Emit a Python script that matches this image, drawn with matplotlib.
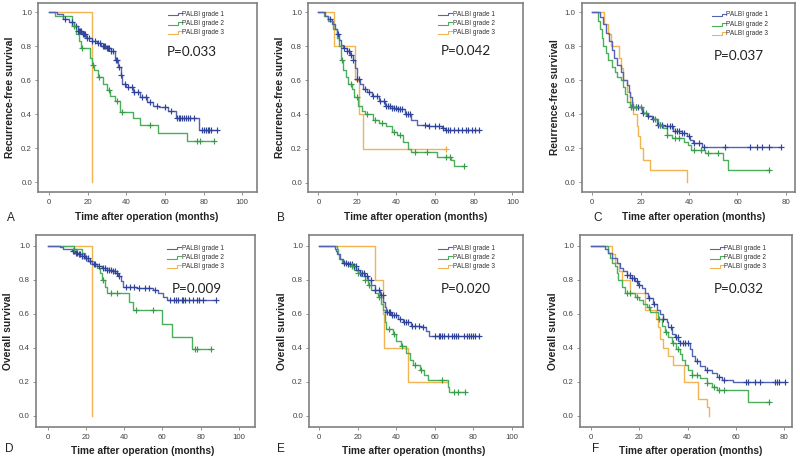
import numpy as np
import matplotlib
matplotlib.use("Agg")
import matplotlib.pyplot as plt
from matplotlib.lines import Line2D

# ---------------- text / labels ----------------
series_names = ["PALBI grade 1", "PALBI grade 2", "PALBI grade 3"]
panel_letters = ["A", "B", "C", "D", "E", "F"]
panel_ylabels = ["Recurrence-free survival", "Recurrence-free survival",
                 "Reurrence-free survival", "Overall survival",
                 "Overall survival", "Overall survival"]
xlabel_text = "Time after operation (months)"
p_values = ["P=0.033", "P=0.042", "P=0.037", "P=0.009", "P=0.020", "P=0.032"]
y_ticks = [0.0, 0.2, 0.4, 0.6, 0.8, 1.0]
x_ticks_100 = [0, 20, 40, 60, 80, 100]
x_ticks_80 = [0, 20, 40, 60, 80]

# ---------------- data: step times, survival after step, end time, censor times ----------------
# Panel A (RFS)
A1_t = [0, 4, 7, 10, 13, 15, 17, 19, 22, 24.5, 27, 29.5, 32, 34, 35.5, 37, 37.8, 40, 43.5, 47, 50.5, 54, 57, 61.5, 65.5, 77.5]
A1_s = [1.0, 0.99, 0.96, 0.94, 0.92, 0.89, 0.87, 0.85, 0.83, 0.82, 0.80, 0.79, 0.77, 0.72, 0.68, 0.63, 0.58, 0.56, 0.53, 0.50, 0.47, 0.45, 0.44, 0.42, 0.38, 0.31]
A1_end = 87
A1_c = [8, 12, 14, 15, 15.5, 16, 16.5, 17.5, 18, 18.5, 19.5, 20.5, 22, 23.5, 25, 26.5, 28, 28.5, 29, 30, 30.5, 31, 32, 33, 34.5, 35, 36, 37, 39, 41, 43, 44, 46, 48, 50, 52, 56, 60, 63, 66, 67, 68, 69, 70, 71, 72, 73, 75, 79, 80, 81, 82, 83, 84, 87]
A2_t = [0, 3, 12, 14, 15.5, 16.5, 21, 22, 23, 25, 28, 30, 31.5, 34, 36.5, 43.5, 47, 56.5, 71.3]
A2_s = [1.0, 0.98, 0.92, 0.87, 0.83, 0.79, 0.73, 0.69, 0.66, 0.62, 0.58, 0.54, 0.51, 0.48, 0.415, 0.38, 0.337, 0.29, 0.243]
A2_end = 85.5
A2_c = [13, 17, 22.5, 26, 31, 35, 37.5, 52, 76.5, 78, 85.5]
A3_t = [0, 22]
A3_s = [1.0, 0.0]
A3_end = 22
A3_c = []

# Panel B (RFS)
B1_t = [0, 3.5, 5, 7, 8.6, 9.5, 10.7, 11.7, 12.9, 14.6, 16.3, 17.7, 19, 19.8, 21.5, 23.2, 25, 27.5, 31, 34.4, 37.8, 41, 44.7, 48, 50.7, 56.7, 63.6, 65.3]
B1_s = [1.0, 0.98, 0.96, 0.93, 0.90, 0.87, 0.84, 0.81, 0.79, 0.77, 0.75, 0.72, 0.67, 0.61, 0.58, 0.55, 0.53, 0.51, 0.48, 0.45, 0.44, 0.43, 0.40, 0.37, 0.34, 0.33, 0.32, 0.31]
B1_end = 83
B1_c = [6, 10, 13, 15, 16, 17, 18, 20, 21, 24, 26, 28, 30, 32, 34, 35, 36, 37, 38, 39, 40, 41, 42, 43, 45, 46, 47, 55, 57, 60, 62, 64, 66, 67, 68, 70, 72, 74, 76, 77, 79, 81, 83]
B2_t = [0, 3, 5, 7.7, 9.5, 10.5, 11.7, 12.9, 14.3, 15.5, 17.2, 18.6, 20.6, 22.3, 24, 28.4, 31, 35, 38, 40.5, 43.5, 46, 47.5, 61, 68.5, 70]
B2_s = [1.0, 0.98, 0.95, 0.90, 0.85, 0.80, 0.72, 0.66, 0.62, 0.58, 0.55, 0.50, 0.45, 0.42, 0.40, 0.37, 0.35, 0.33, 0.30, 0.28, 0.24, 0.20, 0.18, 0.15, 0.13, 0.10]
B2_end = 75
B2_c = [12, 17, 20, 25, 29, 33, 39, 42, 50, 56, 66, 68, 75]
B3_t = [0, 8, 19, 21, 23]
B3_s = [1.0, 0.8, 0.6, 0.4, 0.2]
B3_end = 66
B3_c = [66]

# Panel C (RFS)
C1_t = [0, 3, 4.6, 5.7, 6.9, 8, 9.1, 10.3, 11.7, 12.8, 14.2, 15, 15.6, 16.3, 20.4, 22.5, 24.6, 26.6, 30, 33.5, 37, 39, 40.4, 41.8, 45.2]
C1_s = [1.0, 0.97, 0.93, 0.88, 0.83, 0.78, 0.73, 0.69, 0.65, 0.60, 0.57, 0.53, 0.50, 0.44, 0.41, 0.39, 0.37, 0.34, 0.33, 0.30, 0.29, 0.27, 0.25, 0.23, 0.21]
C1_end = 78
C1_c = [17, 18, 19, 21, 23, 25, 27, 28, 29, 31, 32, 33, 34, 35, 36, 37, 38, 40, 42, 44, 46, 55, 65, 68, 70, 73, 78]
C2_t = [0, 2.5, 3.2, 4, 4.6, 5.7, 6.6, 8, 9.4, 10.3, 11.7, 12.8, 13.5, 14.2, 15.6, 21, 23, 25, 27.3, 29.4, 30.8, 32.8, 38, 39.7, 41, 46.6, 54.2, 56]
C2_s = [1.0, 0.95, 0.90, 0.85, 0.80, 0.76, 0.72, 0.68, 0.65, 0.62, 0.60, 0.56, 0.52, 0.47, 0.44, 0.41, 0.39, 0.37, 0.34, 0.32, 0.28, 0.26, 0.24, 0.22, 0.19, 0.17, 0.13, 0.07]
C2_end = 73
C2_c = [16, 17, 18, 20, 22, 26, 28, 31, 34, 36, 42, 45, 48, 52, 73]
C3_t = [0, 4.8, 6.5, 7.6, 11.2, 12, 12.6, 14.2, 15.6, 17, 18.3, 19, 19.7, 21.1, 23.9, 39]
C3_s = [1.0, 0.93, 0.87, 0.80, 0.73, 0.67, 0.60, 0.53, 0.47, 0.40, 0.33, 0.27, 0.20, 0.13, 0.07, 0.0]
C3_end = 39
C3_c = []

# Panel D (OS)
D1_t = [0, 6.4, 8.2, 12.5, 14.3, 16, 17.8, 19.5, 21.3, 23, 25.6, 28.2, 30.8, 33.4, 35.2, 37, 38.2, 39.5, 46.5, 55, 57.8, 60.5, 62.2]
D1_s = [1.0, 0.99, 0.98, 0.97, 0.96, 0.95, 0.94, 0.93, 0.91, 0.89, 0.88, 0.87, 0.86, 0.85, 0.84, 0.82, 0.79, 0.76, 0.75, 0.74, 0.72, 0.70, 0.68]
D1_end = 88
D1_c = [13, 14, 15, 15.5, 16.5, 17, 18, 19, 20, 21, 22, 24, 25, 27, 29, 30, 31, 32, 33, 34, 35, 36, 37.5, 41, 43, 45, 48, 51, 53, 56, 64, 66, 67, 68, 70, 71, 72, 74, 76, 78, 79, 81, 88]
D2_t = [0, 14, 18, 19.5, 21, 23, 25.6, 27.3, 28.2, 30, 30.8, 42.7, 44.8, 59.6, 64.8, 75.3]
D2_s = [1.0, 0.98, 0.96, 0.93, 0.91, 0.89, 0.87, 0.84, 0.80, 0.76, 0.72, 0.67, 0.62, 0.54, 0.46, 0.39]
D2_end = 85.5
D2_c = [14, 29, 33, 36, 46, 55, 77, 78, 85.5]
D3_t = [0, 23]
D3_s = [1.0, 0.0]
D3_end = 23
D3_c = []

# Panel E (OS)
E1_t = [0, 8, 8.5, 9, 10.7, 12.4, 15, 17.6, 19.3, 21, 23.7, 25.4, 27.1, 28.8, 31.4, 33.2, 34, 34.9, 37.5, 41, 43.5, 47.8, 53, 55.6, 57.3]
E1_s = [1.0, 0.98, 0.97, 0.95, 0.92, 0.90, 0.89, 0.88, 0.86, 0.84, 0.82, 0.80, 0.77, 0.74, 0.71, 0.67, 0.64, 0.61, 0.59, 0.57, 0.55, 0.53, 0.52, 0.50, 0.47]
E1_end = 83
E1_c = [13, 14, 15, 16, 17, 18, 19, 20, 21, 22, 23, 25, 27, 29, 31, 32, 33, 35, 36, 37, 38, 39, 40, 42, 44, 45, 46, 48, 50, 52, 54, 60, 62, 63, 64, 65, 67, 69, 70, 71, 72, 75, 77, 78, 79, 80, 81, 83]
E2_t = [0, 9, 9.7, 10.5, 12, 15.9, 18.1, 19.9, 21.9, 23.7, 25.4, 27.1, 29, 30.6, 32.3, 33.2, 34, 34.9, 38.3, 40.1, 42.7, 45, 47, 48.7, 52.2, 54.7, 56.5, 66.8, 67.5]
E2_s = [1.0, 0.98, 0.95, 0.92, 0.90, 0.88, 0.86, 0.84, 0.82, 0.80, 0.77, 0.74, 0.72, 0.70, 0.66, 0.62, 0.55, 0.51, 0.48, 0.44, 0.41, 0.37, 0.33, 0.30, 0.27, 0.24, 0.21, 0.17, 0.14]
E2_end = 76
E2_c = [17, 20, 24, 26, 31, 36, 39, 43, 50, 53, 64, 70, 72, 76]
E3_t = [0, 29, 33, 33.7, 46]
E3_s = [1.0, 0.8, 0.6, 0.4, 0.2]
E3_end = 67
E3_c = []

# Panel F (OS)
F1_t = [0, 6, 7.2, 8.6, 10.6, 12, 13.4, 14.8, 16.1, 18.2, 19.6, 21, 22.3, 23.7, 25.8, 27.2, 28.6, 29.9, 31.3, 32, 33.4, 34.8, 36.1, 37, 41, 41.7, 43, 45.1, 47.2, 49.9, 52, 54.1, 58.9]
F1_s = [1.0, 0.98, 0.96, 0.93, 0.90, 0.87, 0.85, 0.83, 0.81, 0.79, 0.77, 0.75, 0.72, 0.69, 0.66, 0.62, 0.60, 0.57, 0.55, 0.52, 0.48, 0.46, 0.44, 0.43, 0.39, 0.35, 0.32, 0.29, 0.27, 0.25, 0.23, 0.21, 0.20]
F1_end = 80.5
F1_c = [15, 16, 17, 18, 19, 20, 24, 26, 30, 33, 35, 36, 37, 38, 39, 40, 44, 48, 53, 55, 64, 65, 68, 70, 76, 77, 78, 80.5]
F2_t = [0, 7, 7.8, 8.6, 9.9, 10.6, 11.3, 12.7, 14.1, 18.2, 20, 21.7, 23, 24.4, 27.9, 29.2, 30.6, 32, 33.4, 35.4, 36.8, 37.5, 38.9, 40.3, 41.7, 45.1, 47.9, 49.9, 52, 65.1]
F2_s = [1.0, 0.96, 0.93, 0.90, 0.88, 0.84, 0.80, 0.76, 0.72, 0.70, 0.68, 0.66, 0.64, 0.61, 0.57, 0.53, 0.49, 0.46, 0.43, 0.39, 0.36, 0.33, 0.30, 0.27, 0.24, 0.22, 0.19, 0.17, 0.15, 0.08]
F2_end = 73.8
F2_c = [15, 16, 19, 24, 28, 31, 34, 36, 42, 44, 48, 51, 53, 55, 73.8]
F3_t = [0, 8.5, 10, 11.5, 13, 16, 22.3, 27, 27.8, 28.6, 30, 32, 34, 38.6, 44.4, 48.2, 49]
F3_s = [1.0, 0.95, 0.90, 0.85, 0.80, 0.72, 0.62, 0.57, 0.52, 0.45, 0.40, 0.35, 0.30, 0.20, 0.10, 0.05, 0.0]
F3_end = 49
F3_c = []

panel_series = [
    [(A1_t, A1_s, A1_end, A1_c), (A2_t, A2_s, A2_end, A2_c), (A3_t, A3_s, A3_end, A3_c)],
    [(B1_t, B1_s, B1_end, B1_c), (B2_t, B2_s, B2_end, B2_c), (B3_t, B3_s, B3_end, B3_c)],
    [(C1_t, C1_s, C1_end, C1_c), (C2_t, C2_s, C2_end, C2_c), (C3_t, C3_s, C3_end, C3_c)],
    [(D1_t, D1_s, D1_end, D1_c), (D2_t, D2_s, D2_end, D2_c), (D3_t, D3_s, D3_end, D3_c)],
    [(E1_t, E1_s, E1_end, E1_c), (E2_t, E2_s, E2_end, E2_c), (E3_t, E3_s, E3_end, E3_c)],
    [(F1_t, F1_s, F1_end, F1_c), (F2_t, F2_s, F2_end, F2_c), (F3_t, F3_s, F3_end, F3_c)],
]

# ---------------- layout (pixels) ----------------
W, H = 800, 463
line_colors = ["#5463b3", "#4aae5a", "#f2b450"]
cens_colors = ["#31449c", "#3a9c4b", "#eeaa40"]
frame_col = "#808080"
text_col = "#333333"

# axes rects: left, top, right, bottom (px); xlim; ylim
rects = [(38.3, 2.7, 256.7, 191.7), (308.3, 2.7, 523.0, 192.0), (581.7, 2.7, 795.0, 191.7),
         (36.0, 234.7, 255.0, 426.7), (309.3, 234.7, 523.3, 426.7), (580.0, 234.7, 791.7, 426.7)]
xlims = [(-5.7, 107.5), (-5.2, 105.5), (-4.4, 83.8), (-6.1, 108.4), (-5.2, 106.1), (-4.55, 83.1)]
ylims = [(-0.055, 1.056)] * 3 + [(-0.065, 1.065)] * 3
xticks = [x_ticks_100, x_ticks_100, x_ticks_80, x_ticks_100, x_ticks_100, x_ticks_80]
letter_pos = [(7, 218), (277, 218), (593, 218), (5, 449), (277, 449), (592, 449)]
xlabel_pos = [(147, 217), (416, 217), (694, 217), (143, 451), (414, 451), (691, 451)]
ylabel_x = [10, 280, 555, 8.5, 282, 553]
p_pos = [(167, 52), (441, 51), (714, 56), (172, 289), (441, 289), (714, 289)]
leg_pos = [(168, 14), (438, 14), (712, 15), (167, 248), (438, 248), (710, 248)]
leg_dy = 9.3

fig = plt.figure(figsize=(W / 100, H / 100), dpi=100)
fig.patch.set_facecolor("white")


def fx(x):
    return x / W


def fy(y):
    return 1 - y / H


def step_value(t, s, c):
    t = np.asarray(t, float)
    s = np.asarray(s, float)
    c = np.asarray(c, float)
    idx = np.searchsorted(t, c, side="right") - 1
    return s[idx]


for i in range(6):
    l, t_, r, b = rects[i]
    ax = fig.add_axes([fx(l), fy(b), (r - l) / W, (b - t_) / H])
    ax.set_xlim(*xlims[i])
    ax.set_ylim(*ylims[i])
    for sp in ax.spines.values():
        sp.set_color(frame_col)
        sp.set_linewidth(1.2)
    ax.set_xticks(xticks[i])
    ax.set_yticks(y_ticks)
    ax.set_yticklabels(["%.1f" % v for v in y_ticks])
    ax.tick_params(direction="out", length=2.3, width=0.6, color=frame_col,
                   labelsize=5.7, labelcolor="#444444", pad=2.2)
    ax.tick_params(axis="x", pad=3.0)
    for lab in ax.get_xticklabels() + ax.get_yticklabels():
        lab.set_family("Liberation Sans")

    for k, (tt, ss, end, cc) in enumerate(panel_series[i]):
        xs = np.append(np.asarray(tt, float), end)
        ys = np.append(np.asarray(ss, float), ss[-1])
        ax.step(xs, ys, where="post", color=line_colors[k], lw=1.0, zorder=3 - k * 0.1)
        if len(cc):
            ax.plot(cc, step_value(tt, ss, cc), ls="none", marker="+", ms=3.8, mew=0.85,
                    color=cens_colors[k], zorder=4)

    # texts
    fig.text(fx(letter_pos[i][0]), fy(letter_pos[i][1]), panel_letters[i], fontsize=8.5,
             family="Liberation Sans", color="#222222", ha="left", va="center")
    fig.text(fx(xlabel_pos[i][0]), fy(xlabel_pos[i][1]), xlabel_text, fontsize=7.3,
             family="Liberation Sans", weight="bold", color="#222222", ha="center", va="center")
    fig.text(fx(ylabel_x[i]), fy((t_ + b) / 2), panel_ylabels[i], fontsize=7.4, rotation=90,
             family="Liberation Sans", weight="bold", color="#222222", ha="center", va="center")
    fig.text(fx(p_pos[i][0]), fy(p_pos[i][1]), p_values[i], fontsize=9.7,
             family="Lato", color="#222222", ha="left", va="center")

    # legend
    gx, gy = leg_pos[i]
    for k in range(3):
        yy = gy + k * leg_dy
        xs_px = [gx, gx + 10, gx + 10, gx + 14]
        ys_px = [yy + 1.4, yy + 1.4, yy - 1.4, yy - 1.4]
        fig.add_artist(Line2D([fx(v) for v in xs_px], [fy(v) for v in ys_px],
                              transform=fig.transFigure, color=line_colors[k], lw=0.8))
        fig.text(fx(gx + 14.5), fy(yy), series_names[k], fontsize=4.7,
                 family="Liberation Sans", color=text_col, ha="left", va="center")

fig.savefig("out.png", dpi=100, facecolor="white")
